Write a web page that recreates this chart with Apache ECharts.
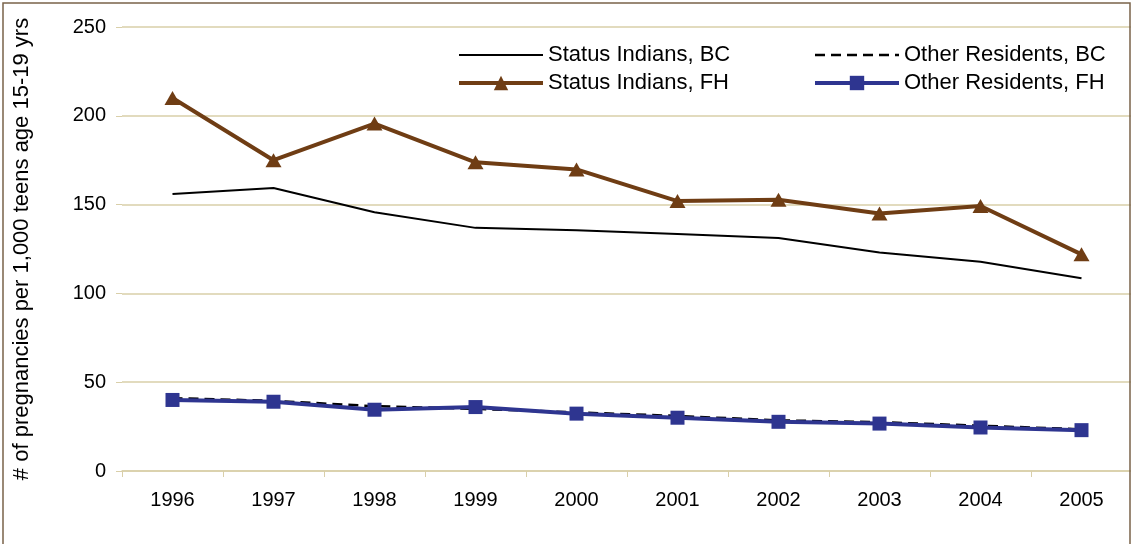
<!DOCTYPE html>
<html>
<head>
<meta charset="utf-8">
<script src="https://cdn.jsdelivr.net/npm/echarts@6/dist/echarts.min.js"></script>
<style>
html,body{margin:0;padding:0;background:#fff;}
#chart{width:1132px;height:544px;}
</style>
</head>
<body>
<div id="chart"></div>
<script>
var years = ['1996','1997','1998','1999','2000','2001','2002','2003','2004','2005'];
var statusBC = [156, 159.4, 145.7, 136.9, 135.5, 133.5, 131.2, 123, 117.8, 108.5];
var otherBC = [41, 39.5, 36.5, 35, 33, 31, 28.5, 27.5, 25.5, 23.5];
var statusFH = [210, 175, 195.6, 173.8, 169.8, 152, 152.7, 145, 149.2, 122];
var otherFH = [40, 39, 34.5, 36, 32.3, 30, 27.7, 26.7, 24.5, 23];
var yTicks = [0, 50, 100, 150, 200, 250];

var gridColor = '#d9cfa9';
var brown = '#6f3d14';
var blue = '#2e3590';
var font = 'Liberation Sans, Arial, sans-serif';
var chart = echarts.init(document.getElementById('chart'), null, {renderer: 'canvas'});
var legendText = {fontSize: 22, color: '#000', fontFamily: font};
chart.setOption({
  animation: false,
  backgroundColor: '#fff',
  textStyle: {fontFamily: font},
  grid: {left: 122, top: 27, bottom: 73, width: 1012, containLabel: false},
  legend: [{
    orient: 'vertical', left: 452, top: 39, itemWidth: 84, itemHeight: 18, itemGap: 6,
    textStyle: legendText,
    data: [
      {name: 'Status Indians, BC', itemStyle: {opacity: 0}, lineStyle: {width: 2, color: '#000'}},
      {name: 'Status Indians, FH', lineStyle: {width: 4, color: brown}}
    ]
  }, {
    orient: 'vertical', left: 808, top: 39, itemWidth: 84, itemHeight: 18, itemGap: 6,
    textStyle: legendText,
    data: [
      {name: 'Other Residents, BC', itemStyle: {opacity: 0}, lineStyle: {width: 2.5, color: '#000', type: [10, 6]}},
      {name: 'Other Residents, FH', lineStyle: {width: 4, color: blue}}
    ]
  }],
  xAxis: {
    type: 'category', data: years, boundaryGap: true,
    axisLine: {show: true, lineStyle: {color: gridColor, width: 1.5}},
    axisTick: {show: true, length: 6, lineStyle: {color: gridColor}},
    axisLabel: {fontSize: 20, color: '#000', margin: 19, fontFamily: font},
    splitLine: {show: false}
  },
  yAxis: {
    type: 'value', min: yTicks[0], max: yTicks[yTicks.length - 1], interval: 50,
    name: '# of pregnancies per 1,000 teens age 15-19 yrs',
    nameLocation: 'middle', nameGap: 89,
    nameTextStyle: {fontSize: 22, color: '#000', fontFamily: font},
    axisLine: {show: false},
    axisTick: {show: true, length: 6, lineStyle: {color: gridColor}},
    axisLabel: {fontSize: 20, color: '#000', margin: 16, fontFamily: font},
    splitLine: {show: true, lineStyle: {color: gridColor, width: 1.5}}
  },
  series: [{
    name: 'Status Indians, BC', type: 'line', data: statusBC,
    symbol: 'none', lineStyle: {color: '#000', width: 2}, itemStyle: {color: '#000'}, z: 2
  }, {
    name: 'Status Indians, FH', type: 'line', data: statusFH,
    symbol: 'triangle', symbolSize: [16, 14],
    lineStyle: {color: brown, width: 4}, itemStyle: {color: brown}, z: 3
  }, {
    name: 'Other Residents, BC', type: 'line', data: otherBC,
    symbol: 'none', lineStyle: {color: '#000', width: 2.5, type: [10, 6]}, itemStyle: {color: '#000'}, z: 2
  }, {
    name: 'Other Residents, FH', type: 'line', data: otherFH,
    symbol: 'rect', symbolSize: 14,
    lineStyle: {color: blue, width: 4}, itemStyle: {color: blue}, z: 3
  }],
  graphic: [{
    type: 'rect', z: 100, shape: {x: 1131, y: 0, width: 10, height: 544}, style: {fill: '#fff'}
  }, {
    type: 'rect', z: 101, shape: {x: 3, y: 3, width: 1127, height: 560},
    style: {fill: 'none', stroke: '#7a634a', lineWidth: 1.5}
  }]
});
</script>
</body>
</html>
